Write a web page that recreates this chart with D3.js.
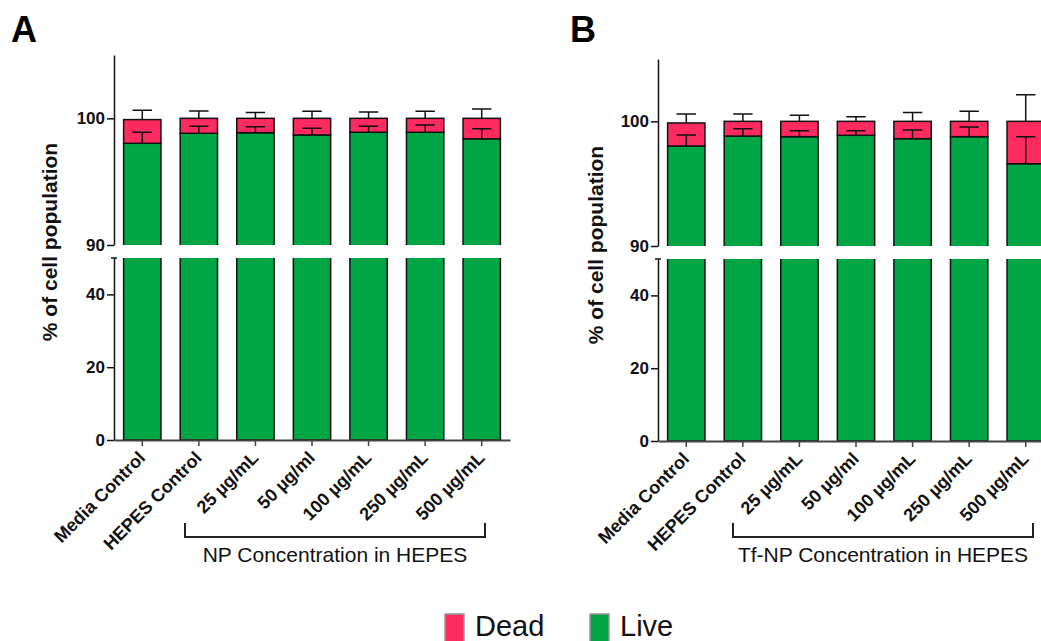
<!DOCTYPE html>
<html>
<head>
<meta charset="utf-8">
<script src="https://cdn.jsdelivr.net/npm/d3@7"></script>
<style>
  body { margin: 0; background: #fff; }
  svg { display: block; font-family: "Liberation Sans", Arial, sans-serif; }
</style>
</head>
<body>
<script>
// categories and values (% of cell population)
const categories = ["Media Control", "HEPES Control", "25 µg/mL", "50 µg/ml", "100 µg/mL", "250 µg/mL", "500 µg/mL"];

const liveA = [98.03, 98.82, 98.87, 98.69, 98.9, 98.9, 98.38];
const liveSdA = [0.87, 0.55, 0.47, 0.52, 0.47, 0.58, 0.79];
const deadA = [1.87, 1.18, 1.13, 1.31, 1.1, 1.1, 1.62];
const deadSdA = [0.73, 0.58, 0.47, 0.55, 0.5, 0.55, 0.74];

const liveB = [98.02, 98.82, 98.77, 98.88, 98.61, 98.77, 96.6];
const liveSdB = [0.88, 0.59, 0.48, 0.37, 0.69, 0.77, 2.17];
const deadB = [1.85, 1.18, 1.23, 1.12, 1.39, 1.23, 3.4];
const deadSdB = [0.72, 0.59, 0.48, 0.37, 0.7, 0.8, 2.14];

const upperTicks = [90, 100];
const lowerTicks = [0, 20, 40];
const seriesNames = ["Dead", "Live"];

const deadColor = "#fe2b60";
const liveColor = "#00a645";

const svg = d3.select("body").append("svg")
  .attr("width", 1041)
  .attr("height", 641);

function drawPanel(p) {
  const g = svg.append("g");
  const x = d3.scaleBand().domain(categories).range([p.x0, p.x1]).paddingInner(0.34).paddingOuter(0.17);
  const yUp = d3.scaleLinear().domain([90, 105]).range([p.up0, p.up1]);
  const yLo = d3.scaleLinear().domain([0, 50]).range([p.lo0, p.lo1]);
  const w = x.bandwidth();

  const rows = categories.map((c, i) => ({
    cat: c, live: p.live[i], dead: p.dead[i], liveSd: p.liveSd[i], deadSd: p.deadSd[i]
  }));

  // lower segment bars
  g.selectAll(".lo").data(rows).enter().append("rect")
    .attr("x", d => x(d.cat)).attr("width", w)
    .attr("y", yLo(50)).attr("height", yLo(0) - yLo(50))
    .attr("fill", liveColor);
  g.selectAll(".loEdge").data(rows).enter().append("path")
    .attr("d", d => `M${x(d.cat)},${yLo(50)}V${yLo(0)}H${x(d.cat) + w}V${yLo(50)}`)
    .attr("fill", "none").attr("stroke", "#111").attr("stroke-width", 1.5);

  // upper segment: live
  g.selectAll(".up").data(rows).enter().append("rect")
    .attr("x", d => x(d.cat)).attr("width", w)
    .attr("y", d => yUp(d.live)).attr("height", d => yUp(90) - yUp(d.live))
    .attr("fill", liveColor);
  g.selectAll(".upEdge").data(rows).enter().append("path")
    .attr("d", d => `M${x(d.cat)},${yUp(90)}V${yUp(d.live)}H${x(d.cat) + w}V${yUp(90)}`)
    .attr("fill", "none").attr("stroke", "#111").attr("stroke-width", 1.5);

  // upper segment: dead stacked on top
  g.selectAll(".dead").data(rows).enter().append("rect")
    .attr("x", d => x(d.cat)).attr("width", w)
    .attr("y", d => yUp(d.live + d.dead)).attr("height", d => yUp(d.live) - yUp(d.live + d.dead))
    .attr("fill", deadColor).attr("stroke", "#111").attr("stroke-width", 1.5);

  // error bars (up only)
  const cap = w * 0.26;
  rows.forEach(d => {
    const cx = x(d.cat) + w / 2;
    [[d.live, d.liveSd], [d.live + d.dead, d.deadSd]].forEach(([v, sd]) => {
      g.append("path")
        .attr("d", `M${cx},${yUp(v)}V${yUp(v + sd)}M${cx - cap},${yUp(v + sd)}H${cx + cap}`)
        .attr("fill", "none").attr("stroke", "#111").attr("stroke-width", 1.5);
    });
  });

  // y axes
  const axUp = g.append("g").attr("transform", `translate(${p.x0},0)`)
    .call(d3.axisLeft(yUp).tickValues(upperTicks).tickSize(7).tickSizeOuter(0).tickPadding(2));
  const axLo = g.append("g").attr("transform", `translate(${p.x0},0)`)
    .call(d3.axisLeft(yLo).tickValues(lowerTicks).tickSize(7).tickSizeOuter(0).tickPadding(2));
  g.append("path").attr("d", `M${p.x0 - 3},${yLo(50)}H${p.x0 + 3}`).attr("stroke", "#111").attr("stroke-width", 1.5);
  [axUp, axLo].forEach(a => {
    a.select(".domain").attr("stroke", "#111").attr("stroke-width", 1.5);
    a.selectAll(".tick line").attr("stroke", "#111").attr("stroke-width", 1.5);
    a.selectAll("text").attr("font-size", 17).attr("font-weight", "bold").attr("fill", "#111")
      .attr("font-family", "Liberation Sans, Arial, sans-serif");
  });

  // x axis
  const axX = g.append("g").attr("transform", `translate(0,${yLo(0)})`)
    .call(d3.axisBottom(x).tickSize(6).tickSizeOuter(0).tickFormat(""));
  axX.select(".domain").attr("stroke", "#444").attr("stroke-width", 1.8);
  axX.selectAll(".tick line").attr("stroke", "#444").attr("stroke-width", 1.5);

  g.selectAll(".xl").data(categories).enter().append("text")
    .attr("transform", c => `translate(${x(c) + w / 2 + 4},${yLo(0) + 19}) rotate(-45)`)
    .attr("text-anchor", "end")
    .attr("font-size", 18).attr("font-weight", "bold").attr("fill", "#111")
    .text(c => c);

  // y title
  g.append("text")
    .attr("transform", `translate(${p.titleX},${p.titleY}) rotate(-90)`)
    .attr("text-anchor", "middle")
    .attr("font-size", 21).attr("font-weight", "bold").attr("fill", "#111")
    .text("% of cell population");

  // bracket under concentrations
  g.append("path")
    .attr("d", `M${p.br0},${523}V${537}H${p.br1}V${523}`)
    .attr("fill", "none").attr("stroke", "#222").attr("stroke-width", 2);
  g.append("text")
    .attr("x", (p.br0 + p.br1) / 2).attr("y", 562)
    .attr("text-anchor", "middle").attr("font-size", 21).attr("fill", "#111")
    .text(p.bracketLabel);

  // panel letter
  g.append("text").attr("x", p.letterX).attr("y", 42)
    .attr("font-size", 36).attr("font-weight", "bold").attr("fill", "#000")
    .text(p.letter);
}

drawPanel({
  letter: "A", letterX: 11,
  x0: 114, x1: 510, up0: 245, up1: 55, lo0: 440, lo1: 258,
  live: liveA, dead: deadA, liveSd: liveSdA, deadSd: deadSdA,
  titleX: 57, titleY: 242, br0: 185, br1: 485,
  bracketLabel: "NP Concentration in HEPES"
});

drawPanel({
  letter: "B", letterX: 570,
  x0: 658, x1: 1054, up0: 246, up1: 59, lo0: 441, lo1: 259,
  live: liveB, dead: deadB, liveSd: liveSdB, deadSd: deadSdB,
  titleX: 603, titleY: 245, br0: 733, br1: 1033,
  bracketLabel: "Tf-NP Concentration in HEPES"
});

// legend
const legend = svg.append("g");
const legX = [445, 590];
seriesNames.forEach((s, i) => {
  legend.append("rect")
    .attr("x", legX[i]).attr("y", 614).attr("width", 19).attr("height", 30)
    .attr("fill", s === "Dead" ? deadColor : liveColor)
    .attr("stroke", "#999").attr("stroke-width", 1.5);
  legend.append("text")
    .attr("x", legX[i] + 30).attr("y", 636)
    .attr("font-size", 29).attr("fill", "#111")
    .text(s);
});
</script>
</body>
</html>
